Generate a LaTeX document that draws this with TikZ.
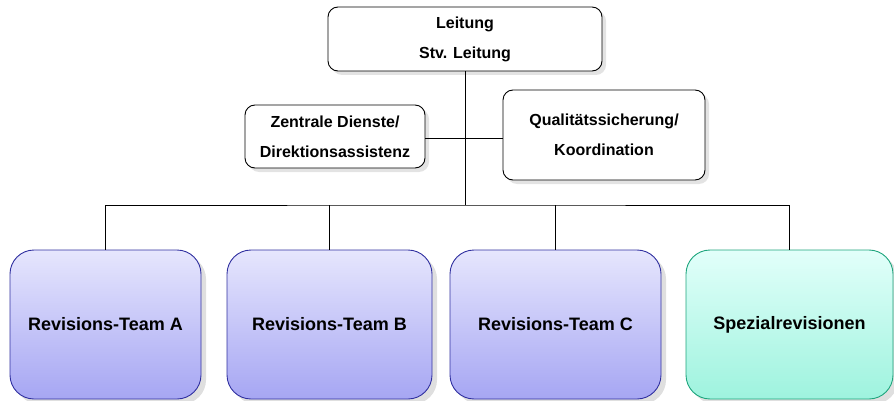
\documentclass[tikz,border=0pt]{standalone}
\usepackage{fontspec}
\setmainfont{Liberation Sans}
\usetikzlibrary{shadows}
\definecolor{bluetop}{RGB}{230,230,253}
\definecolor{bluemid}{RGB}{206,206,250}
\definecolor{bluebot}{RGB}{166,166,243}
\definecolor{blueline}{RGB}{48,48,160}
\definecolor{greentop}{RGB}{226,255,250}
\definecolor{greenmid}{RGB}{200,252,240}
\definecolor{greenbot}{RGB}{158,243,222}
\definecolor{greenline}{RGB}{30,165,125}
\tikzset{
  headbox/.style={draw=black, line width=0.9pt, fill=white, rounded corners=10pt,
    align=center, font=\fontsize{16}{30}\selectfont\bfseries, inner sep=0pt,
    drop shadow={opacity=0.22, shadow xshift=4pt, shadow yshift=-4pt}},
  teambox/.style={draw=blueline, line width=0.9pt, rounded corners=24pt,
    top color=bluetop, middle color=bluemid, bottom color=bluebot,
    align=center, font=\fontsize{18}{22}\selectfont\bfseries, inner sep=0pt,
    drop shadow={opacity=0.25, shadow xshift=5pt, shadow yshift=-5pt}},
  spezbox/.style={teambox, draw=greenline, top color=greentop, middle color=greenmid, bottom color=greenbot},
  link/.style={draw=black, line width=0.8pt}
}
\begin{document}
\begin{tikzpicture}[x=1pt,y=-1pt]
\useasboundingbox (0,0) rectangle (894,401);
\node[headbox, minimum width=274pt, minimum height=64pt] (top) at (465,39) {Leitung\\Stv. Leitung};
\node[headbox, minimum width=180pt, minimum height=63pt] (zd) at (335,136.5) {Zentrale Dienste/\\Direktionsassistenz};
\node[headbox, minimum width=202pt, minimum height=90pt] (qs) at (604,135) {Qualitätssicherung/\\Koordination};
\node[teambox, minimum width=191pt, minimum height=149pt] (ta) at (105.5,324.5) {Revisions-Team A};
\node[teambox, minimum width=205pt, minimum height=149pt] (tb) at (329.5,324.5) {Revisions-Team B};
\node[teambox, minimum width=211pt, minimum height=149pt] (tc) at (555.5,324.5) {Revisions-Team C};
\node[spezbox, minimum width=207pt, minimum height=149pt] (sp) at (789.5,324.5) {Spezialrevisionen};
\coordinate (bus) at (465,205);
\draw[link] (top.south) -- (bus);
\draw[link] (ta.north) |- (bus) -| (sp.north);
\draw[link] (tb.north) -- (tb.north |- bus);
\draw[link] (tc.north) -- (tc.north |- bus);
\draw[link] (zd.east |- 0,138) -- (qs.west |- 0,138);
\end{tikzpicture}
\end{document}
